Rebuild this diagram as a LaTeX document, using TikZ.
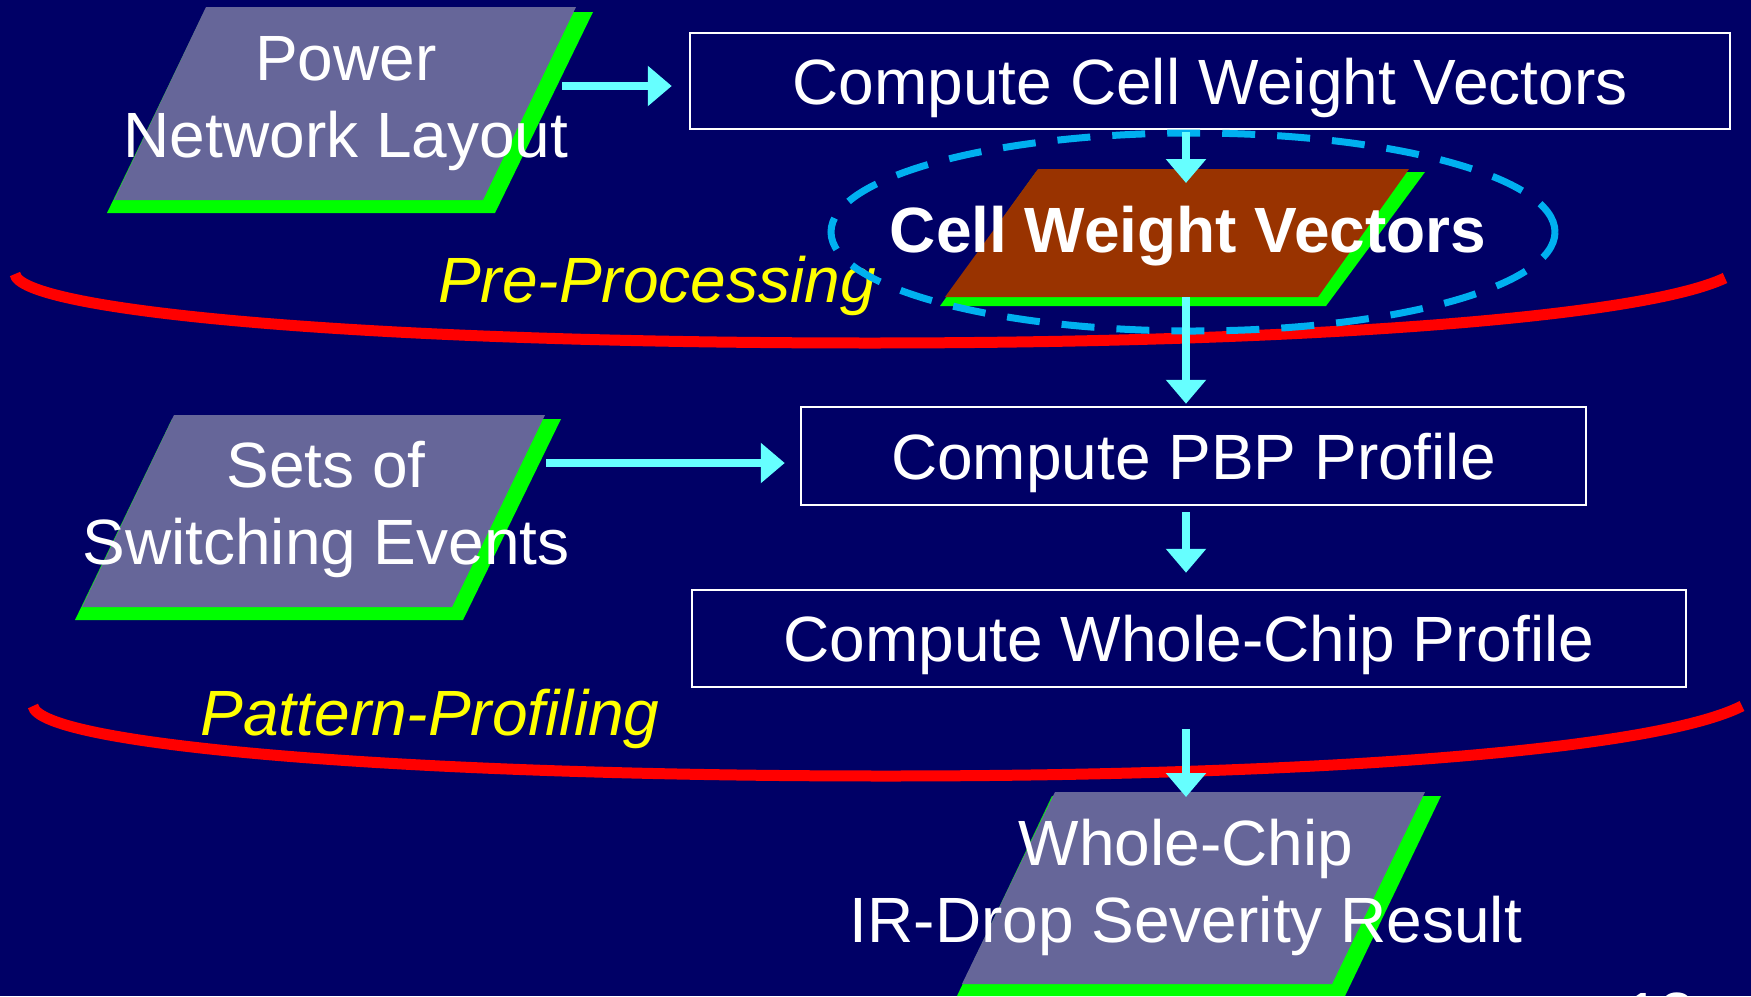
\documentclass[tikz,border=0pt]{standalone}
\usepackage{fontspec}
\setmainfont{Liberation Sans}
\usetikzlibrary{arrows.meta}
\definecolor{bgnavy}{RGB}{0,0,102}
\definecolor{slate}{RGB}{102,102,153}
\definecolor{shadowgreen}{RGB}{0,255,0}
\definecolor{rust}{RGB}{153,51,0}
\definecolor{arrowcyan}{RGB}{102,255,255}
\definecolor{dashblue}{RGB}{0,176,240}
\definecolor{sepred}{RGB}{255,0,0}
\definecolor{labelyellow}{RGB}{255,255,0}
\newcommand\TwoLn[2]{\vtop{\halign{\hfil##\hfil\cr#1\cr#2\cr}}}
\begin{document}
\begin{tikzpicture}[x=1pt,y=-1pt,
  procbox/.style={draw=white, line width=2.5pt, inner sep=0pt, text=white,
    text height=50pt, text depth=4pt, font=\fontsize{64}{77}\selectfont},
  ptext/.style={inner sep=0pt, text=white, font=\fontsize{64}{77}\selectfont, anchor=base},
  flow/.style={draw=arrowcyan, line width=8pt, -{Triangle[length=24pt,width=39pt]}},
  sepline/.style={draw=sepred, line width=11pt},
  phase/.style={inner sep=0pt, text=labelyellow, anchor=base,
    font=\fontsize{64}{77}\selectfont\itshape},
  greenshadow/.style={fill=shadowgreen},
  datafill/.style={fill=slate},
]
\useasboundingbox (0,0) rectangle (1751,996);
\fill[bgnavy] (0,0) rectangle (1751,996);

% red separators
\draw[sepline] (15,274) .. controls (20,310) and (350,343) .. (870,343)
  .. controls (1300,343) and (1640,318) .. (1725,278);
\draw[sepline] (33,706) .. controls (40,745) and (400,776) .. (886,776)
  .. controls (1320,776) and (1655,750) .. (1742,706);

% Power Network Layout
\fill[greenshadow] (204,12) -- (593,12) -- (495,213) -- (107,213) -- cycle;
\fill[datafill] (206,7) -- (576,7) -- (483,200) -- (114,200) -- cycle;
% Sets of Switching Events
\fill[greenshadow] (172,419) -- (561,419) -- (463,620) -- (75,620) -- cycle;
\fill[datafill] (174,415) -- (545,415) -- (452,607) -- (82,607) -- cycle;
% Cell Weight Vectors
\fill[greenshadow] (1036,172) -- (1425,172) -- (1326,306) -- (940,306) -- cycle;
\fill[rust] (1038,169) -- (1409,169) -- (1318,297) -- (945,297) -- cycle;
% Result
\fill[greenshadow] (1052,796) -- (1441,796) -- (1345,996) -- (957,996) -- cycle;
\fill[datafill] (1055,792) -- (1425,792) -- (1332,984) -- (962,984) -- cycle;

% process boxes
\node[procbox, minimum width=1040pt, minimum height=96pt] (ccw) at (1210,81) {Compute Cell Weight Vectors};
\node[procbox, minimum width=785pt, minimum height=98pt] (pbp) at (1193.5,456) {Compute PBP Profile};
\node[procbox, minimum width=994pt, minimum height=97pt] (wcp) at (1189,638.5) {Compute Whole-Chip Profile};

% phase labels
\node[phase] (prelab) at (657,302) {Pre-Processing};
\node[phase] (patlab) at (430,735) {Pattern-Profiling};

% dashed ellipse
\draw[dashblue, line width=7pt, dash pattern=on 33pt off 22pt] (1193,232) ellipse [x radius=362pt, y radius=99pt];

% data texts
\node[ptext] (pnl) at (346,80) {\TwoLn{Power}{Network Layout}};
\node[ptext] (sse) at (326,487) {\TwoLn{Sets of}{Switching Events}};
\node[ptext, font=\fontsize{64}{77}\selectfont\bfseries] (cwv) at (1188,252) {Cell Weight Vectors};
\node[ptext] (wcr) at (1186,865) {\TwoLn{Whole-Chip}{IR-Drop Severity Result}};

% connector end points
\coordinate (pnlout) at (562,86);
\coordinate (sseout) at (546,463);
\coordinate (cwvin) at (1186,183);
\coordinate (cwvout) at (1186,297);
\coordinate (wcrin) at (1186,797);

% arrows
\draw[flow, shorten >=17pt] (pnlout) -- ([yshift=-5pt]ccw.west);
\draw[flow, shorten <=2pt] ([xshift=-24pt]ccw.south) -- (cwvin);
\draw[flow, shorten >=2pt] (cwvout) -- ([xshift=-7.5pt]pbp.north);
\draw[flow, shorten >=15pt] (sseout) -- ([yshift=-7pt]pbp.west);
\draw[flow, shorten <=6pt, shorten >=16pt] ([xshift=-7.5pt]pbp.south) -- ([xshift=-3pt]wcp.north);
\draw[flow, shorten <=41pt] ([xshift=-3pt]wcp.south) -- (wcrin);

% page number (mostly cut off)
\begin{scope}
\clip (0,0) rectangle (1751,996);
\node[inner sep=0pt, anchor=north west, text=white, font=\fontsize{64}{77}\selectfont] (pgno) at (1624,993) {13};
\end{scope}
\end{tikzpicture}
\end{document}
